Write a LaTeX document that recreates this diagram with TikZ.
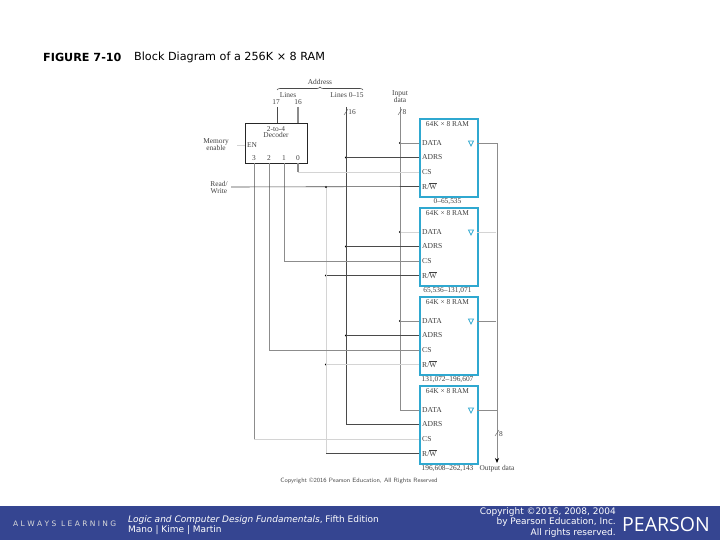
\documentclass[tikz,border=0pt]{standalone}
\usepackage{fontspec}
\setmainfont{Liberation Serif}
\newfontfamily\verdfont{DejaVu Sans}
\newfontfamily\logofont{Open Sans}
\usetikzlibrary{decorations.pathreplacing,arrows.meta}
\definecolor{ramblue}{HTML}{2FA8D0}
\definecolor{bandblue}{HTML}{354591}
\definecolor{wiredark}{HTML}{4A4A4A}
\definecolor{wiremid}{HTML}{8C8C8C}
\definecolor{wirelight}{HTML}{D4D4D4}
\tikzset{
  lbl/.style={inner sep=0pt,font=\fontsize{7.4}{8}\selectfont,text=black!75},
  pinlbl/.style={lbl,anchor=west,font=\fontsize{7.6}{8}\selectfont},
  rambox/.style={draw=ramblue,line width=2pt,anchor=north west,minimum width=58pt,minimum height=78pt,inner sep=0pt},
  decbox/.style={draw=black!85,line width=1pt,anchor=north west,minimum width=62pt,minimum height=40pt,inner sep=0pt},
  jdot/.style={circle,fill=black,inner sep=0pt,minimum size=2.4pt},
  dark/.style={draw=wiredark,line width=.7pt},
  mid/.style={draw=wiremid,line width=.8pt},
  light/.style={draw=wirelight,line width=.8pt},
  foot/.style={inner sep=0pt,text=white,font=\verdfont\fontsize{9}{10}\selectfont}
}
\begin{document}
\begin{tikzpicture}[x=1pt,y=-1pt]
\useasboundingbox (0,0) rectangle (720,540);
\fill[bandblue] (0,506) rectangle (720,540);
\node[inner sep=0pt,anchor=west,font=\verdfont\bfseries\fontsize{11.2}{12}\selectfont] (figno) at (43,57.5) {FIGURE 7-10};
\node[inner sep=0pt,anchor=west,font=\verdfont\fontsize{11.2}{12}\selectfont] (figtitle) at (134,57.5) {Block Diagram of a 256K × 8 RAM};
%%%%
\foreach \n/\y/\r in {1/118/{0--65,535},2/207/{65,536--131,071},3/296/{131,072--196,607},4/385/{196,608--262,143}}{
\node[rambox] (ram\n) at (419,\y) {};
\node[lbl] (ramtitle\n) at (447.5,\y+6.5) {64K × 8 RAM};
\node[lbl] (range\n) at (447.5,\y+84) {\r};
\coordinate (data\n) at (419,\y+25);
\coordinate (adrs\n) at (419,\y+39.5);
\coordinate (cs\n) at (419,\y+54);
\coordinate (rw\n) at (419,\y+68.5);
\coordinate (q\n) at (477,\y+25);
\node[pinlbl] (datalbl\n) at (422,\y+25) {DATA};
\node[pinlbl] (adrslbl\n) at (422,\y+39.5) {ADRS};
\node[pinlbl] (cslbl\n) at (422,\y+54) {CS};
\node[pinlbl] (rwlbl\n) at (422,\y+68.5) {R/$\overline{\mbox{W}}$};
\draw[ramblue,line width=.7pt] (468.5,\y+23) -- (473.5,\y+23) -- (471,\y+28) -- cycle;
}
%%%%
\node[decbox] (dec) at (245,123) {};
\node[lbl] (dectxt) at (276,133) {\begin{tabular}{@{}c@{}}2-to-4\\[-1.5pt]Decoder\end{tabular}};
\node[lbl] (enlbl) at (252,145) {EN};
\foreach \k/\x in {3/254,2/269,1/284,0/298}{
\node[lbl] (outlbl\k) at (\x,158) {\k};
\coordinate (dec\k) at (\x,163);
}
\coordinate (in17) at (277,107);
\coordinate (dec17) at (277,123);
\coordinate (in16) at (298,107);
\coordinate (dec16) at (298,123);
\coordinate (abus) at (346,107);
\coordinate (dbus) at (400,107);
\coordinate (addrl) at (277,90);
\coordinate (addrr) at (363,90);
\coordinate (mein) at (237,145);
\coordinate (meout) at (245,145);
\coordinate (rwin) at (231,187);
\coordinate (qend) at (497,463);
%%%%
\draw[dark] (in17) -- (dec17);
\draw[mid,line width=1.5pt] (in16) -- (dec16);
\draw[light] (mein) -- (meout);
\draw[dark,line width=.6pt,decorate,decoration={brace,amplitude=3pt}] (addrl) -- (addrr);
\foreach \n/\y in {1/143,2/232,3/321}{
\node[jdot] (jd\n) at (400,\y) {};
\node[jdot] (ja\n) at (346,\y+14.5) {};
\node[inner sep=0pt] (jq\n) at (497,\y) {};
}
\node[jdot] (jrw1) at (326,187) {};
\node[jdot] (jrw2) at (326,275.5) {};
\node[jdot] (jrw3) at (326,364.5) {};
%%%%
\draw[light] (jrw1) -- (jrw1 |- rw4);
\draw[dark,line width=.8pt] (abus) |- (adrs4);
\draw[mid,line width=1pt] (dbus) |- (data4);
\draw[wiremid,line width=.8pt,-{Stealth[length=5pt,width=4pt,black]}] (q1) -| (qend);
\draw[mid,line width=1.4pt] (dec0) -- (dec0 |- cs1);
\draw[light] (dec0 |- cs1) -- (cs1);
\draw[mid] (dec1) |- (cs2);
\draw[mid] (dec2) |- (cs3);
\draw[mid] (dec3) -- (dec3 |- cs4);
\draw[light] (dec3 |- cs4) -- (cs4);
\draw[dark,line width=.6pt] (rwin) -- (rw1);
\draw[dark,line width=.8pt] (jrw2) -- (rw2);
\draw[light] (jrw3) -- (rw3);
\draw[dark,line width=.7pt] (jrw3 |- rw4) -- (rw4);
\draw[mid] (jd1) -- (data1);
\draw[light] (jd2) -- (data2);
\draw[mid] (jd3) -- (data3);
\draw[dark] (ja1) -- (adrs1);
\draw[dark] (ja2) -- (adrs2);
\draw[dark,line width=.9pt] (ja3) -- (adrs3);
\draw[light] (q2) -- (jq2);
\draw[mid,line width=.5pt] (q3) -- (jq3);
\draw[mid,line width=.5pt] (q4) -- (q4 -| qend);
\foreach \x/\y in {346/112,400/112,497/433}
\draw[black!70,line width=.4pt] (\x-2,\y+3) -- (\x+2,\y-3);
%%%%
\node[lbl] (addrlbl) at (320,82) {Address};
\node[lbl] (lines) at (288,95) {Lines};
\node[lbl] (n17) at (276,102) {17};
\node[lbl] (n16) at (298,102) {16};
\node[lbl] (lines015) at (347,95) {Lines 0--15};
\node[lbl] (n16b) at (352,112) {16};
\node[lbl,align=center] (inlbl) at (400,97) {Input\\[-1pt]data};
\node[lbl] (n8a) at (404.5,112) {8};
\node[lbl] (n8b) at (501,434) {8};
\node[lbl,align=center] (melbl) at (216,145) {Memory\\[-1pt]enable};
\node[lbl,align=center] (rwlbl) at (219,187) {Read/\\[-1pt]Write};
\node[lbl] (outdata) at (497,469) {Output data};
\node[inner sep=0pt,text=black!70,font=\fontsize{6.2}{7}\selectfont\sffamily] (copyr) at (359,481) {Copyright \copyright2016 Pearson Education, All Rights Reserved};
%%%%
\node[foot,anchor=west,text=black!15,font=\verdfont\fontsize{7.5}{8}\selectfont] (always) at (13,524) {A L W A Y S\ \ L E A R N I N G};
\node[foot,anchor=west] (book) at (128,520) {\textit{Logic and Computer Design Fundamentals}, Fifth Edition};
\node[foot,anchor=west] (auth) at (128,530) {Mano | Kime | Martin};
\node[foot,anchor=east] (cr1) at (616,512) {Copyright \copyright2016, 2008, 2004};
\node[foot,anchor=east] (cr2) at (616,522.5) {by Pearson Education, Inc.};
\node[foot,anchor=east] (cr3) at (616,533) {All rights reserved.};
\node[foot,anchor=west,font=\logofont\fontsize{19.5}{20}\selectfont] (logo) at (622,525) {PEARSON};
\end{tikzpicture}
\end{document}
